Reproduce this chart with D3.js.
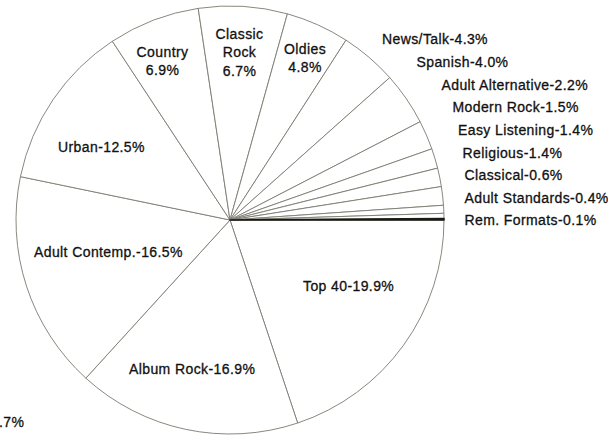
<!DOCTYPE html>
<html>
<head>
<meta charset="utf-8">
<script src="https://cdn.jsdelivr.net/npm/d3@7"></script>
<style>
  html, body { margin: 0; padding: 0; background: #fff; }
  svg { display: block; }
  text {
    font-family: "Liberation Sans", Arial, Helvetica, sans-serif;
    fill: #111;
    stroke: #111;
    stroke-width: 0.3px;
    letter-spacing: 0.4px;
  }
</style>
</head>
<body>
<svg id="chart" width="608" height="436"></svg>
<script>
// Radio format shares (%), listed clockwise from 3 o'clock
const categories = [
  "Top 40", "Album Rock", "Adult Contemp.", "Urban", "Country", "Classic Rock",
  "Oldies", "News/Talk", "Spanish", "Adult Alternative", "Modern Rock",
  "Easy Listening", "Religious", "Classical", "Adult Standards", "Rem. Formats"
];
const shares = [19.9, 16.9, 16.5, 12.5, 6.9, 6.7, 4.8, 4.3, 4.0, 2.2, 1.5, 1.4, 1.4, 0.6, 0.4, 0.1];

// Stacked labels inside the narrow top wedges
const stackedLines = {
  "Country": ["Country"],
  "Classic Rock": ["Classic", "Rock"],
  "Oldies": ["Oldies"]
};

// Label placement: [x, first baseline, anchor]
const labelLayout = {
  "Top 40":            [303, 291, "start"],
  "Album Rock":        [129, 374, "start"],
  "Adult Contemp.":    [34, 257, "start"],
  "Urban":             [58, 152, "start"],
  "Country":           [162.5, 56.5, "middle"],
  "Classic Rock":      [239.5, 39, "middle"],
  "Oldies":            [305, 53.5, "middle"],
  "News/Talk":         [382, 43.5, "start"],
  "Spanish":           [416.5, 66.5, "start"],
  "Adult Alternative": [441.5, 89.5, "start"],
  "Modern Rock":       [452.5, 112, "start"],
  "Easy Listening":    [458, 135, "start"],
  "Religious":         [462.5, 157.5, "start"],
  "Classical":         [464.5, 180, "start"],
  "Adult Standards":   [464.5, 202.5, "start"],
  "Rem. Formats":      [464.5, 225, "start"]
};

const width = 608, height = 436;
const cx = 230, cy = 220, radius = 214;
const lineGap = 18.3;
const fontSize = 14;

const svg = d3.select("#chart");
const fmt = d3.format(".1f");

const data = categories.map((c, i) => ({ name: c, value: shares[i] }));

const pie = d3.pie()
  .sort(null)
  .value(d => d.value)
  .startAngle(Math.PI / 2)
  .endAngle(Math.PI / 2 + 2 * Math.PI);

const arc = d3.arc().innerRadius(0).outerRadius(radius);

const g = svg.append("g").attr("transform", `translate(${cx},${cy})`);

g.selectAll("path")
  .data(pie(data))
  .join("path")
  .attr("d", arc)
  .attr("fill", d => d.data.name === "Rem. Formats" ? "#1a1a14" : "#fff")
  .attr("stroke", d => d.data.name === "Rem. Formats" ? "#1a1a14" : "#7a7a70")
  .attr("stroke-width", d => d.data.name === "Rem. Formats" ? 1.6 : 0.9)
  .attr("stroke-linejoin", "round");

// Slice labels
const labels = svg.append("g");
data.forEach(d => {
  const [x, y, anchor] = labelLayout[d.name];
  const pct = fmt(d.value) + "%";
  const lines = stackedLines[d.name]
    ? stackedLines[d.name].concat([pct])
    : [d.name + "-" + pct];
  const t = labels.append("text")
    .attr("x", x)
    .attr("y", y)
    .attr("text-anchor", anchor)
    .style("font-size", fontSize + "px");
  lines.forEach((ln, i) => {
    t.append("tspan")
      .attr("x", x)
      .attr("dy", i === 0 ? 0 : lineGap)
      .text(ln);
  });
});

// Fragment of a neighbouring figure's label at the lower-left edge
svg.append("text")
  .attr("x", -1)
  .attr("y", 427)
  .style("font-size", fontSize + "px")
  .text(".7%");
</script>
</body>
</html>
